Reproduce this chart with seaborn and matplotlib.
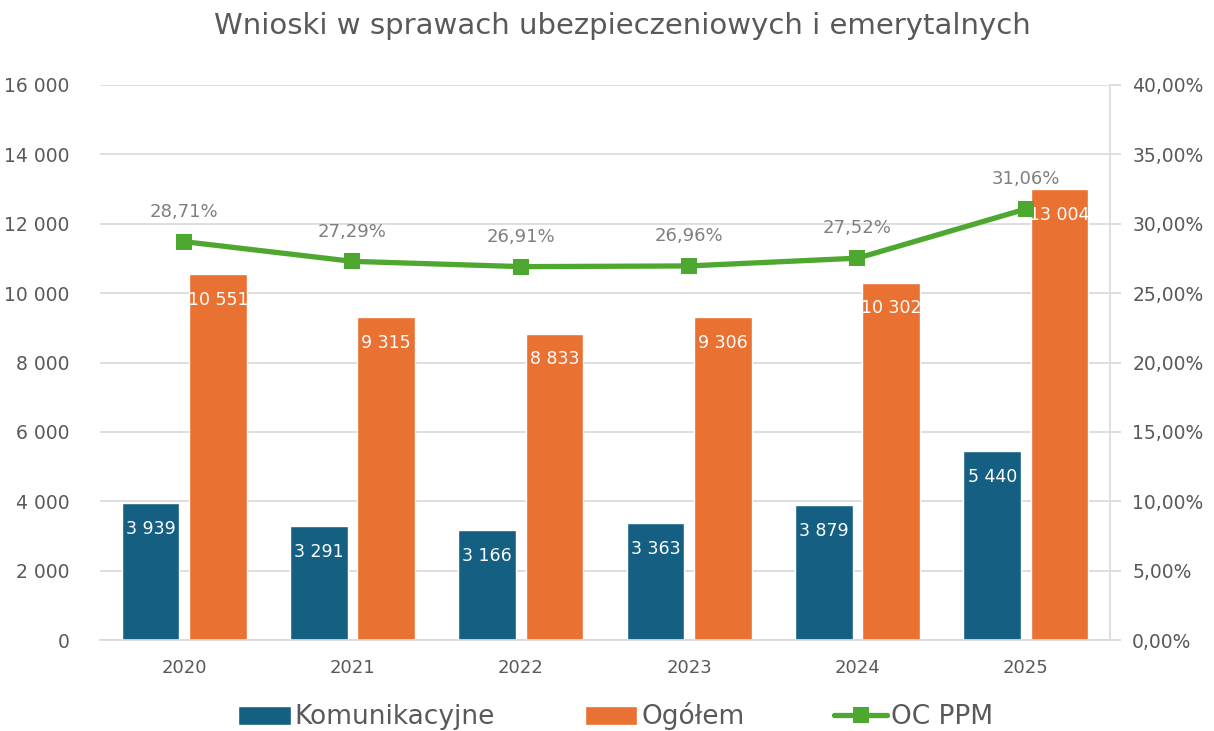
import numpy as np
import pandas as pd
import seaborn as sns
import matplotlib.pyplot as plt
from matplotlib.ticker import FuncFormatter

# data
years = ['2020', '2021', '2022', '2023', '2024', '2025']
komunikacyjne = [3939, 3291, 3166, 3363, 3879, 5440]
ogolem = [10551, 9315, 8833, 9306, 10302, 13004]
oc_ppm = [28.71, 27.29, 26.91, 26.96, 27.52, 31.06]

BLUE = '#156082'
ORANGE = '#E97132'
GREEN = '#4EA72E'
GRAY = '#595959'

df = pd.DataFrame({
    'rok': years * 2,
    'wartosc': komunikacyjne + ogolem,
    'seria': ['Komunikacyjne'] * 6 + ['Ogółem'] * 6,
})

sns.set_theme(style='white')
plt.rcParams['font.family'] = ['DejaVu Sans']

fig = plt.figure(figsize=(12.14, 7.31), dpi=100)
ax = fig.add_axes([100 / 1214, 91 / 731, 1010 / 1214, 555 / 731])

sns.barplot(data=df, x='rok', y='wartosc', hue='seria', order=years,
            hue_order=['Komunikacyjne', 'Ogółem'], palette=[BLUE, ORANGE],
            width=0.8, gap=0.14, ax=ax, legend=True, saturation=1)

def pl_int(v):
    return f'{int(round(v)):,}'.replace(',', ' ')

for cont, vals in zip(ax.containers, [komunikacyjne, ogolem]):
    ax.bar_label(cont, labels=[pl_int(v) for v in vals], padding=-25,
                 color='white', fontsize=12.5)

ax.set_ylim(0, 16000)
ax.set_xlim(-0.5, 5.5)
ax.set_yticks(np.arange(0, 16001, 2000))
ax.yaxis.set_major_formatter(FuncFormatter(lambda v, p: pl_int(v)))
ax.yaxis.grid(True, color='#d9d9d9', linewidth=1.2)
ax.set_axisbelow(True)
ax.set_xlabel('')
ax.set_ylabel('')
for s in ['left', 'top', 'right']:
    ax.spines[s].set_visible(False)
ax.spines['bottom'].set_color('#d9d9d9')
ax.tick_params(axis='y', labelsize=13.5, colors=GRAY, length=0, pad=22)
ax.tick_params(axis='x', labelsize=13, colors=GRAY, length=0, pad=14)

ax2 = ax.twinx()
sns.lineplot(x=np.arange(6), y=oc_ppm, color=GREEN, linewidth=3.8,
             marker='s', markersize=12, markeredgewidth=0, ax=ax2,
             label='OC PPM', legend=False)
ax2.set_ylim(0, 40)
ax2.set_yticks(np.arange(0, 41, 5))
ax2.yaxis.set_major_formatter(FuncFormatter(lambda v, p: f'{v:.2f}%'.replace('.', ',')))
ax2.tick_params(axis='y', labelsize=13.5, labelcolor=GRAY, color='#d9d9d9',
                length=8, width=1.2, pad=8)
for s in ['left', 'top', 'bottom']:
    ax2.spines[s].set_visible(False)
ax2.spines['right'].set_color('#d9d9d9')
ax2.spines['right'].set_linewidth(1.2)
for i, v in enumerate(oc_ppm):
    ax2.annotate(f'{v:.2f}%'.replace('.', ','), (i, v), xytext=(0, 15),
                 textcoords='offset points', ha='center', va='bottom',
                 color='#7f7f7f', fontsize=13)

h1, l1 = ax.get_legend_handles_labels()
h2, l2 = ax2.get_legend_handles_labels()
ax.get_legend().remove()
fig.legend(h1 + h2, l1 + l2, loc='center', bbox_to_anchor=(0.507, 0.02),
           ncol=3, frameon=False, fontsize=19, labelcolor=GRAY,
           handlelength=2.0, handleheight=0.75, handletextpad=0.15,
           columnspacing=3.4, borderaxespad=0)

fig.text(0.513, 0.965, 'Wnioski w sprawach ubezpieczeniowych i emerytalnych',
         ha='center', va='center', fontsize=21, color=GRAY)

fig.savefig('out.png', dpi=100)
